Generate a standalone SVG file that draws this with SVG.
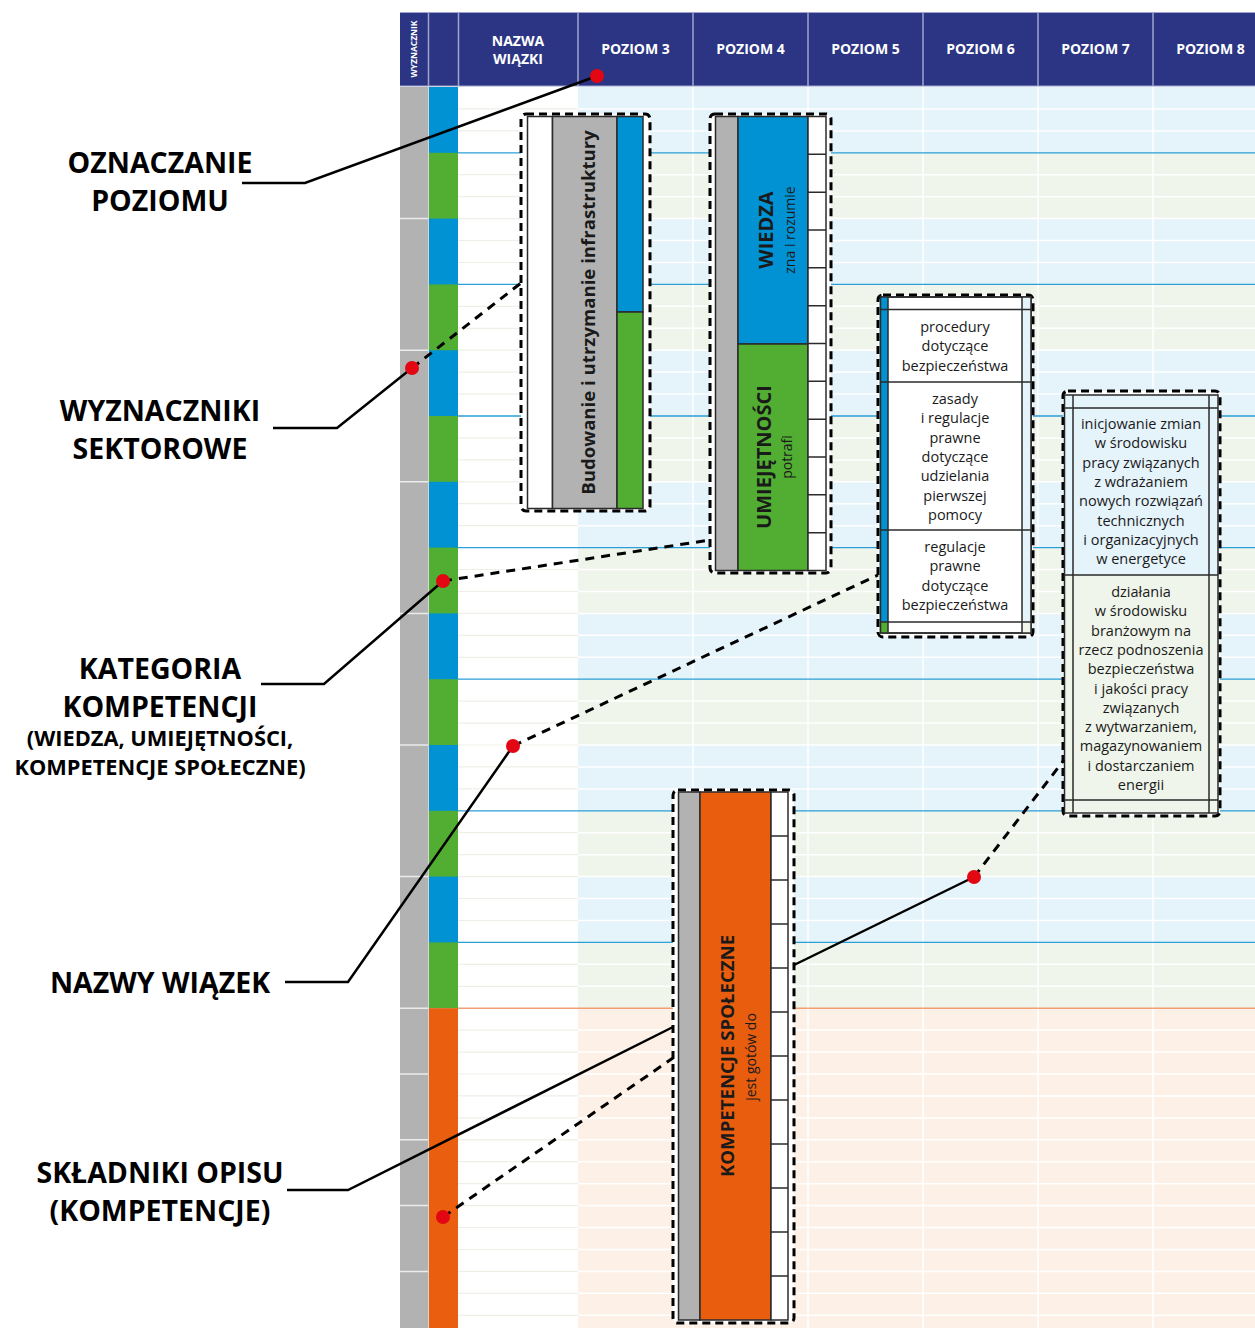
<svg xmlns="http://www.w3.org/2000/svg" width="1255" height="1328" viewBox="0 0 1255 1328">
<defs>
<style>
.lbl{font-family:"Open Sans","Liberation Sans",sans-serif;font-weight:700;font-size:28.5px;fill:#000;text-anchor:middle}
.lbls{font-size:21.8px}
.hdr{font-family:"Open Sans","Liberation Sans",sans-serif;font-weight:700;font-size:14px;fill:#fff;text-anchor:middle}
.box{fill:#fff;stroke:#000;stroke-width:3;stroke-dasharray:8 5}
.cell{stroke:#2b2b2b;stroke-width:1.5}
.ln{fill:none;stroke:#2b2b2b;stroke-width:1.5}
.desc{font-family:"Open Sans","Liberation Sans",sans-serif;font-size:14.5px;fill:#1a1a1a;text-anchor:middle}
.vb{font-family:"Open Sans","Liberation Sans",sans-serif;font-weight:700;font-size:20px;fill:#1a1a1a;text-anchor:middle}
.vr{font-family:"Open Sans","Liberation Sans",sans-serif;font-size:14px;fill:#1a1a1a;text-anchor:middle}
.lead{fill:none;stroke:#000;stroke-width:2.5}
.dash{fill:none;stroke:#000;stroke-width:3;stroke-dasharray:9 7}
.dot{fill:#e30613}
</style>
</defs>
<rect x="0" y="0" width="1255" height="1328" fill="#fff"/>
<g id="grid">
  <rect x="578" y="87" width="677" height="921.2" fill="#e5f3fb"/>
  <g fill="#eff5ea">
    <rect x="578" y="152.8" width="677" height="65.8"/>
    <rect x="578" y="284.4" width="677" height="65.8"/>
    <rect x="578" y="416" width="677" height="65.8"/>
    <rect x="578" y="547.6" width="677" height="65.8"/>
    <rect x="578" y="679.2" width="677" height="65.8"/>
    <rect x="578" y="810.8" width="677" height="65.8"/>
    <rect x="578" y="942.4" width="677" height="65.8"/>
  </g>
  <rect x="578" y="1008.2" width="677" height="320" fill="#fdf0e7"/>
  <rect x="429" y="87" width="29" height="921.2" fill="#0092d2"/>
  <g fill="#52ae32">
    <rect x="429" y="152.8" width="29" height="65.8"/>
    <rect x="429" y="284.4" width="29" height="65.8"/>
    <rect x="429" y="416" width="29" height="65.8"/>
    <rect x="429" y="547.6" width="29" height="65.8"/>
    <rect x="429" y="679.2" width="29" height="65.8"/>
    <rect x="429" y="810.8" width="29" height="65.8"/>
    <rect x="429" y="942.4" width="29" height="65.8"/>
  </g>
  <rect x="429" y="1008.2" width="29" height="320" fill="#e95e0f"/>
  <rect x="400" y="87" width="28" height="1241" fill="#b2b2b2"/>
  <path d="M428.5 87V1328" stroke="#d6d6d6" stroke-width="1"/>
  <path d="M400 218.6H428M400 350.2H428M400 481.8H428M400 613.4H428M400 745H428M400 876.6H428M400 1008.2H428M400 1074H428M400 1139.8H428M400 1205.6H428M400 1271.4H428" stroke="#ececec" stroke-width="1.5"/>
  <path d="M578 108.9H1255M578 130.9H1255M578 174.7H1255M578 196.7H1255M578 218.6H1255M578 240.5H1255M578 262.5H1255M578 306.3H1255M578 328.3H1255M578 350.2H1255M578 372.1H1255M578 394.1H1255M578 437.9H1255M578 459.9H1255M578 481.8H1255M578 503.7H1255M578 525.7H1255M578 569.5H1255M578 591.5H1255M578 613.4H1255M578 635.3H1255M578 657.3H1255M578 701.1H1255M578 723.1H1255M578 745H1255M578 766.9H1255M578 788.9H1255M578 832.7H1255M578 854.7H1255M578 876.6H1255M578 898.5H1255M578 920.5H1255M578 964.3H1255M578 986.3H1255M578 1030.1H1255M578 1052.1H1255M578 1074H1255M578 1095.9H1255M578 1117.9H1255M578 1139.8H1255M578 1161.7H1255M578 1183.7H1255M578 1205.6H1255M578 1227.5H1255M578 1249.5H1255M578 1271.4H1255M578 1293.3H1255M578 1315.3H1255" stroke="#fff" stroke-width="1.5"/>
  <path d="M458 108.9H578M458 130.9H578M458 174.7H578M458 196.7H578M458 218.6H578M458 240.5H578M458 262.5H578M458 306.3H578M458 328.3H578M458 350.2H578M458 372.1H578M458 394.1H578M458 437.9H578M458 459.9H578M458 481.8H578M458 503.7H578M458 525.7H578M458 569.5H578M458 591.5H578M458 613.4H578M458 635.3H578M458 657.3H578M458 701.1H578M458 723.1H578M458 745H578M458 766.9H578M458 788.9H578M458 832.7H578M458 854.7H578M458 876.6H578M458 898.5H578M458 920.5H578M458 964.3H578M458 986.3H578M458 1030.1H578M458 1052.1H578M458 1074H578M458 1095.9H578M458 1117.9H578M458 1139.8H578M458 1161.7H578M458 1183.7H578M458 1205.6H578M458 1227.5H578M458 1249.5H578M458 1271.4H578M458 1293.3H578M458 1315.3H578" stroke="#efefe8" stroke-width="1.2"/>
  <path d="M693 87V1328M808 87V1328M923 87V1328M1038 87V1328M1153 87V1328" stroke="#fff" stroke-width="1.5"/>
  <path d="M458 152.8H1255M458 284.4H1255M458 416H1255M458 547.6H1255M458 679.2H1255M458 810.8H1255M458 942.4H1255" stroke="#2a9fd8" stroke-width="1.3"/>
  <path d="M458 1008.2H1255" stroke="#f2a073" stroke-width="1.5"/>
</g>
<g id="header">
  <rect x="400" y="12" width="855" height="74" fill="#2b3583"/>
  <path d="M400 12.5H1255M400 86H1255" stroke="#9ea4cd" stroke-width="1.2"/>
  <path d="M428.5 12V86M458.5 12V86M578 12V86M693 12V86M808 12V86M923 12V86M1038 12V86M1153 12V86" stroke="#9ea4cd" stroke-width="1.5"/>
  <text class="hdr" style="font-size:8.5px" transform="translate(417,49) rotate(-90)">WYZNACZNIK</text>
  <text class="hdr" x="518" y="46">NAZWA</text>
  <text class="hdr" x="518" y="64">WIĄZKI</text>
  <text class="hdr" x="635.5" y="54">POZIOM 3</text>
  <text class="hdr" x="750.5" y="54">POZIOM 4</text>
  <text class="hdr" x="865.5" y="54">POZIOM 5</text>
  <text class="hdr" x="980.5" y="54">POZIOM 6</text>
  <text class="hdr" x="1095.5" y="54">POZIOM 7</text>
  <text class="hdr" x="1210.5" y="54">POZIOM 8</text>
</g>
<g id="bundle-name-callout">
  <rect class="box" x="521" y="114" width="129" height="397" rx="5"/>
  <rect x="527.5" y="116.5" width="25" height="392" fill="#fff" class="cell"/>
  <rect x="552.5" y="116.5" width="64.5" height="392" fill="#b2b2b2" class="cell"/>
  <rect x="617" y="116.5" width="26" height="195.5" fill="#0092d2" class="cell"/>
  <rect x="617" y="312" width="26" height="196.5" fill="#52ae32" class="cell"/>
  <text class="vb" style="font-size:18.6px" transform="translate(595,312.5) rotate(-90)">Budowanie i utrzymanie infrastruktury</text>
</g>
<g id="category-callout">
  <rect class="box" x="710" y="114" width="121" height="459" rx="5"/>
  <rect x="715.5" y="116.5" width="22.5" height="454" fill="#b2b2b2" class="cell"/>
  <rect x="738" y="116.5" width="70" height="227.5" fill="#0092d2" class="cell"/>
  <rect x="738" y="344" width="70" height="226.5" fill="#52ae32" class="cell"/>
  <rect x="808" y="116.5" width="18" height="454" fill="#fff" class="cell"/>
  <path class="ln" d="M808 154.3H826M808 192.2H826M808 230H826M808 267.8H826M808 305.7H826M808 343.5H826M808 381.3H826M808 419.2H826M808 457H826M808 494.8H826M808 532.7H826"/>
  <text class="vb" transform="translate(773,230) rotate(-90)">WIEDZA</text>
  <text class="vr" transform="translate(795,230) rotate(-90)">zna i rozumie</text>
  <text class="vb" transform="translate(771,457) rotate(-90)">UMIEJĘTNOŚCI</text>
  <text class="vr" transform="translate(792,457) rotate(-90)">potrafi</text>
</g>
<g id="bundle-rows-callout">
  <rect class="box" x="878" y="295" width="155" height="342" rx="5"/>
  <rect x="880.5" y="297" width="150.5" height="336" fill="#fff" class="cell"/>
  <rect x="880.5" y="297" width="7.5" height="325" fill="#0092d2"/>
  <rect x="880.5" y="622" width="7.5" height="11" fill="#52ae32"/>
  <rect x="1022" y="297" width="9" height="325" fill="#e5f3fb"/>
  <rect x="1022" y="622" width="9" height="11" fill="#eff5ea"/>
  <rect x="880.5" y="297" width="150.5" height="336" fill="none" class="cell"/>
  <path class="ln" d="M888 297V633M1022 297V633M880.5 309.5H1031M880.5 382H1031M880.5 530H1031M880.5 622H1031"/>
  <text class="desc"><tspan x="955" y="332">procedury</tspan><tspan x="955" dy="19.3">dotyczące</tspan><tspan x="955" dy="19.3">bezpieczeństwa</tspan></text>
  <text class="desc"><tspan x="955" y="404">zasady</tspan><tspan x="955" dy="19.3">i regulacje</tspan><tspan x="955" dy="19.3">prawne</tspan><tspan x="955" dy="19.3">dotyczące</tspan><tspan x="955" dy="19.3">udzielania</tspan><tspan x="955" dy="19.3">pierwszej</tspan><tspan x="955" dy="19.3">pomocy</tspan></text>
  <text class="desc"><tspan x="955" y="552">regulacje</tspan><tspan x="955" dy="19.3">prawne</tspan><tspan x="955" dy="19.3">dotyczące</tspan><tspan x="955" dy="19.3">bezpieczeństwa</tspan></text>
</g>
<g id="level-descriptions-callout">
  <rect class="box" x="1063" y="391" width="157" height="425" rx="5"/>
  <rect x="1064.5" y="395" width="153.5" height="180" fill="#e5f3fb"/>
  <rect x="1064.5" y="575" width="153.5" height="238" fill="#eff5ea"/>
  <rect x="1064.5" y="395" width="153.5" height="418" fill="none" class="cell"/>
  <path class="ln" d="M1073 395V813M1209 395V813M1064.5 408H1218M1064.5 575H1218M1064.5 800H1218"/>
  <text class="desc"><tspan x="1141" y="429">inicjowanie zmian</tspan><tspan x="1141" dy="19.3">w środowisku</tspan><tspan x="1141" dy="19.3">pracy związanych</tspan><tspan x="1141" dy="19.3">z wdrażaniem</tspan><tspan x="1141" dy="19.3">nowych rozwiązań</tspan><tspan x="1141" dy="19.3">technicznych</tspan><tspan x="1141" dy="19.3">i organizacyjnych</tspan><tspan x="1141" dy="19.3">w energetyce</tspan></text>
  <text class="desc"><tspan x="1141" y="597">działania</tspan><tspan x="1141" dy="19.3">w środowisku</tspan><tspan x="1141" dy="19.3">branżowym na</tspan><tspan x="1141" dy="19.3">rzecz podnoszenia</tspan><tspan x="1141" dy="19.3">bezpieczeństwa</tspan><tspan x="1141" dy="19.3">i jakości pracy</tspan><tspan x="1141" dy="19.3">związanych</tspan><tspan x="1141" dy="19.3">z wytwarzaniem,</tspan><tspan x="1141" dy="19.3">magazynowaniem</tspan><tspan x="1141" dy="19.3">i dostarczaniem</tspan><tspan x="1141" dy="19.3">energii</tspan></text>
</g>
<g id="social-competence-callout">
  <rect class="box" x="673" y="790" width="121" height="533" rx="5"/>
  <rect x="678.5" y="792" width="21.5" height="528" fill="#b2b2b2" class="cell"/>
  <rect x="700" y="792" width="71" height="528" fill="#e85d0e" class="cell"/>
  <rect x="771" y="792" width="17" height="528" fill="#fff" class="cell"/>
  <path class="ln" d="M771 836H788M771 880H788M771 924H788M771 968H788M771 1012H788M771 1056H788M771 1100H788M771 1144H788M771 1188H788M771 1232H788M771 1276H788"/>
  <text class="vb" style="font-size:18.6px" transform="translate(734,1056) rotate(-90)">KOMPETENCJE SPOŁECZNE</text>
  <text class="vr" transform="translate(756,1057) rotate(-90)">jest gotów do</text>
</g>
<g id="labels">
  <g id="label-oznaczanie"><text class="lbl" x="160" y="173">OZNACZANIE</text><text class="lbl" x="160" y="211">POZIOMU</text></g>
  <g id="label-wyznaczniki"><text class="lbl" x="160" y="421">WYZNACZNIKI</text><text class="lbl" x="160" y="459">SEKTOROWE</text></g>
  <g id="label-kategoria"><text class="lbl" x="160" y="679">KATEGORIA</text><text class="lbl" x="160" y="717">KOMPETENCJI</text><text class="lbl lbls" x="160" y="746">(WIEDZA, UMIEJĘTNOŚCI,</text><text class="lbl lbls" x="160" y="775">KOMPETENCJE SPOŁECZNE)</text></g>
  <g id="label-nazwy"><text class="lbl" x="160" y="993">NAZWY WIĄZEK</text></g>
  <g id="label-skladniki"><text class="lbl" x="160" y="1183">SKŁADNIKI OPISU</text><text class="lbl" x="160" y="1221">(KOMPETENCJE)</text></g>
</g>
<g id="connectors">
  <polyline class="lead" points="242,183 305,183 597,76"/>
  <polyline class="lead" points="273,428 337,428 412,368"/>
  <path class="dash" d="M412 368L521 283"/>
  <polyline class="lead" points="261,684 324,684 443,581"/>
  <path class="dash" d="M443 581L710 540"/>
  <polyline class="lead" points="285,982 348,982 513,746"/>
  <path class="dash" d="M513 746L878 575"/>
  <polyline class="lead" points="287,1190 348,1190 673,1027"/>
  <path class="dash" d="M443 1217L673 1058"/>
  <path class="lead" d="M794 965L974 877"/>
  <path class="dash" d="M974 877L1064 760"/>
  <circle class="dot" cx="597" cy="76" r="7"/>
  <circle class="dot" cx="412" cy="368" r="7"/>
  <circle class="dot" cx="443" cy="581" r="7"/>
  <circle class="dot" cx="513" cy="746" r="7"/>
  <circle class="dot" cx="443" cy="1217" r="7"/>
  <circle class="dot" cx="974" cy="877" r="7"/>
</g>
</svg>
